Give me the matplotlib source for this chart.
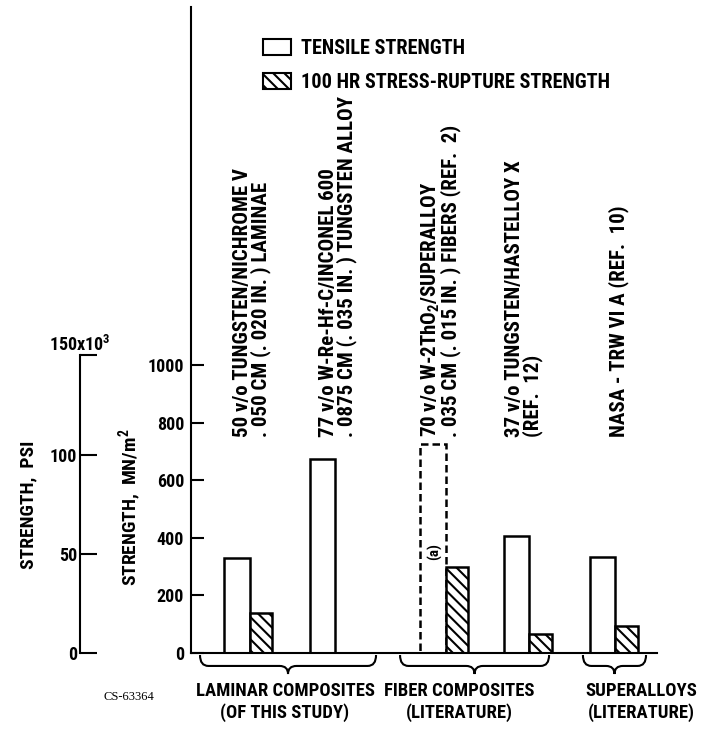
import numpy as np
import matplotlib.pyplot as plt
from matplotlib.patches import Patch, PathPatch
from matplotlib.path import Path

plt.rcParams["font.family"] = ["Roboto Condensed", "DejaVu Sans"]
plt.rcParams["font.weight"] = "bold"
plt.rcParams["mathtext.default"] = "regular"
plt.rcParams["hatch.linewidth"] = 1.5

# strengths in MN/m^2
materials = [
    "50 v/o TUNGSTEN/NICHROME V\n. 050 CM (. 020 IN. ) LAMINAE",
    "77 v/o W-Re-Hf-C/INCONEL 600\n. 0875 CM (. 035 IN. ) TUNGSTEN ALLOY",
    "70 v/o W-2ThO$_2$/SUPERALLOY\n. 035 CM (. 015 IN. ) FIBERS (REF.  2)",
    "37 v/o TUNGSTEN/HASTELLOY X\n(REF.  12)",
    "NASA - TRW VI A (REF.  10)",
]
tensile = [330, 675, 725, 405, 335]
rupture = [140, np.nan, 300, 65, 95]
tensile_estimated = [False, False, True, False, False]

groups = [
    "LAMINAR COMPOSITES\n(OF THIS STUDY)",
    "FIBER COMPOSITES\n(LITERATURE)",
    "SUPERALLOYS\n(LITERATURE)",
]
mn_ticks = [0, 200, 400, 600, 800, 1000]
psi_ticks = [0, 50, 100, 150]
MN_PER_KSI = 6.895

# layout (x in bar-width units)
bar_x = [1.92, 5.48, 10.08, 13.56, 17.15]
label_x = [2.54, 6.12, 10.38, 13.88, 17.8]
label_y = 751
brace_spans = [(0.375, 7.71), (8.71, 14.92), (16.33, 18.96)]
group_x = [285, 459, 641]

W, H = 709, 732
PX_PER_MN = 0.2877
y_top = (653 - 7) / PX_PER_MN


def fx(px):
    return px / W


def fy(py):
    return 1 - py / H


fig = plt.figure(figsize=(W / 100, H / 100), dpi=100)
ax = fig.add_axes([fx(191), fy(653), (657 - 191) / W, (653 - 7) / H])
ax.set_xlim(0, (657 - 191) / 24)
ax.set_ylim(0, y_top)
ax.patch.set_alpha(0)
for s in ["top", "right"]:
    ax.spines[s].set_visible(False)
for s in ["left", "bottom"]:
    ax.spines[s].set_linewidth(1.5)
ax.set_xticks([])
ax.set_yticks(mn_ticks)
ax.tick_params(axis="y", direction="in", length=9.5, width=1.5, pad=5, labelsize=13)

tw, rw = 1.05, 0.95
for i in range(len(tensile)):
    x = bar_x[i]
    if tensile_estimated[i]:
        ax.bar(x, tensile[i], width=tw, fill=False, edgecolor="black",
               linewidth=1.8, linestyle=(0, (3, 1.6)))
    else:
        ax.bar(x, tensile[i], width=tw, facecolor="white", edgecolor="black",
               linewidth=1.8)
    if not np.isnan(rupture[i]):
        ax.bar(x + (tw + rw) / 2, rupture[i], width=rw, facecolor="white",
               edgecolor="black", linewidth=1.8, hatch="\\\\\\")
    ax.text(label_x[i], label_y, materials[i], rotation=90, ha="center",
            va="bottom", multialignment="left", fontsize=15, linespacing=0.9)

ax.text(10.17, 351, "(a)", rotation=90, ha="center", va="center", fontsize=11)

# curly braces under the groups
yt, ym, yb = -7, -45, -73
for x0, x1 in brace_spans:
    xc = (x0 + x1) / 2
    r = 0.35
    verts = [(x0, yt), (x0, ym), (x0 + r, ym), (xc - r, ym), (xc, ym), (xc, yb),
             (xc, ym), (xc + r, ym), (x1 - r, ym), (x1, ym), (x1, yt)]
    codes = [Path.MOVETO, Path.CURVE3, Path.CURVE3, Path.LINETO, Path.CURVE3,
             Path.CURVE3, Path.CURVE3, Path.CURVE3, Path.LINETO, Path.CURVE3,
             Path.CURVE3]
    ax.add_patch(PathPatch(Path(verts, codes), fill=False, lw=1.5,
                           clip_on=False))

for gx, g in zip(group_x, groups):
    fig.text(fx(gx), fy(702), g, ha="center", va="center",
             multialignment="center", fontsize=13.4, linespacing=1.25)

# secondary strength scale in ksi
ax2 = fig.add_axes([fx(80), fy(653), 0.01, (653 - 7) / H])
ax2.set_ylim(0, y_top / MN_PER_KSI)
ax2.patch.set_alpha(0)
for s in ["top", "right", "bottom"]:
    ax2.spines[s].set_visible(False)
ax2.spines["left"].set_bounds(0, 150)
ax2.spines["left"].set_linewidth(1.5)
ax2.set_xticks([])
ax2.set_yticks(psi_ticks)
ax2.set_yticklabels(["0", "50", "100", ""])
ax2.tick_params(axis="y", direction="in", length=12, width=1.5, pad=2, labelsize=13)
ax2.text(0, 150, "150x10$^3$", transform=ax2.get_yaxis_transform(),
         ha="center", va="bottom", fontsize=13)

fig.text(fx(28), fy(505), "STRENGTH,  PSI", rotation=90, ha="center",
         va="center", fontsize=14)
fig.text(fx(130), fy(507), "STRENGTH,  MN/m$^2$", rotation=90, ha="center",
         va="center", fontsize=14)

fig.text(fx(104), fy(697), "CS-63364", ha="left", va="center", fontsize=9,
         family="Liberation Serif", weight="normal")

handles = [Patch(facecolor="white", edgecolor="black", linewidth=1.5),
           Patch(facecolor="white", edgecolor="black", linewidth=1.5,
                 hatch="\\\\\\")]
fig.legend(handles, ["TENSILE STRENGTH", "100 HR STRESS-RUPTURE STRENGTH"],
           loc="upper left", bbox_to_anchor=(fx(263), fy(39)),
           frameon=False, borderpad=0, borderaxespad=0, fontsize=14.6,
           handlelength=1.4, handleheight=0.8, handletextpad=0.45,
           labelspacing=0.75)

fig.savefig("out.png", dpi=100)
